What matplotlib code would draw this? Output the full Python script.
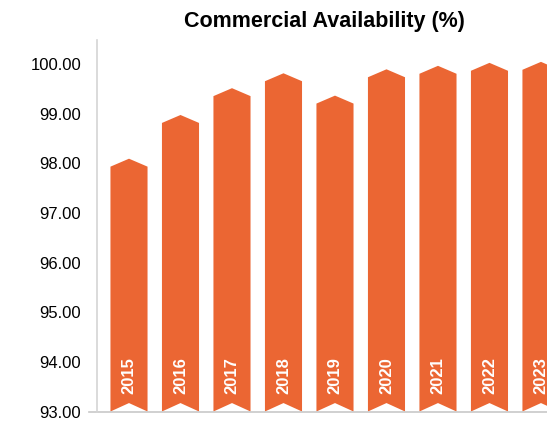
import matplotlib
matplotlib.use('Agg')
import matplotlib.pyplot as plt
from matplotlib.patches import Polygon

years = ['2015', '2016', '2017', '2018', '2019', '2020', '2021', '2022', '2023']
availability = [98.09, 98.97, 99.51, 99.81, 99.36, 99.89, 99.96, 100.02, 100.04]
yticks = [93, 94, 95, 96, 97, 98, 99, 100]

bar_color = '#EB6633'
bar_width = 0.72
tip = 0.16      # height of the pointed top (data units)
notch = 0.17    # depth of the notch at the bottom
base = 93.0

plt.rcParams['font.family'] = ['Liberation Sans', 'DejaVu Sans']

fig = plt.figure(figsize=(5.47, 4.21), dpi=100)
ax = fig.add_axes([96.5 / 547, 9.5 / 421, 450.5 / 547, 371.5 / 421])

for i, (yr, v) in enumerate(zip(years, availability)):
    l, r = i - bar_width / 2, i + bar_width / 2
    pts = [(l, base), (l, v - tip), (i, v), (r, v - tip), (r, base), (i, base + notch)]
    ax.add_patch(Polygon(pts, closed=True, facecolor=bar_color, edgecolor='none'))
    ax.text(i, 93.36, yr, rotation=90, ha='center', va='bottom', color='white',
            fontsize=12, fontweight='bold')

ax.set_xlim(-0.631, 8.117)
ax.set_ylim(93, 100.48)
ax.set_yticks(yticks)
ax.set_yticklabels([f'{t:.2f}' for t in yticks], fontsize=12)
ax.set_xticks([])
ax.tick_params(axis='y', length=0, pad=11)

for s in ['top', 'right', 'bottom']:
    ax.spines[s].set_visible(False)
ax.spines['left'].set_color('#d4d4d4')
ax.spines['left'].set_linewidth(1.2)
ax.plot([-0.016, 1], [0, 0], transform=ax.transAxes, color='#c8c8c8', lw=1.2, clip_on=False)

fig.text(324 / 547, 1 - 22 / 421, 'Commercial Availability (%)', ha='center', va='center',
         fontsize=15.5, fontweight='bold')

fig.savefig('out.png', dpi=100)
